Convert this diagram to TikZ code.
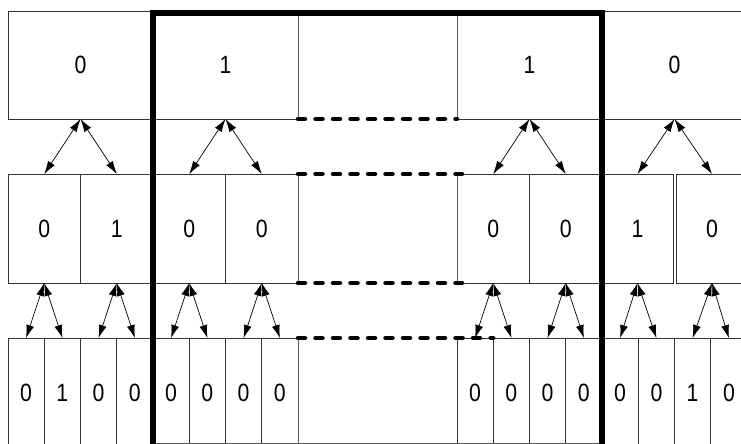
\documentclass[tikz,border=0pt]{standalone}
\usepackage{fontspec}
\setmainfont{Liberation Sans}[FakeStretch=0.85]
\usepackage{tikz}
\usetikzlibrary{arrows.meta}

\begin{document}
\begin{tikzpicture}[
  x=1pt, y=-1pt,
  cell/.style={draw=black!80, line width=0.8pt, inner sep=0pt, outer sep=0pt,
    font=\fontsize{25}{25}\selectfont},
  tcell/.style={cell, minimum width=145pt, minimum height=108pt},
  mcell/.style={cell, minimum width=72.5pt, minimum height=109pt},
  bcell/.style={cell, minimum width=36.25pt, minimum height=110pt},
  gapbox/.style={inner sep=0pt, outer sep=0pt, minimum width=159pt},
  side/.style={draw=black!65, line width=0.8pt},
  arr/.style={{Latex[length=13pt,width=8pt]}-{Latex[length=13pt,width=8pt]}, line width=0.7pt},
  gapline/.style={line width=4.5pt, line cap=round, dash pattern=on 7pt off 10.5pt},
  frame/.style={line width=6pt}
]
\useasboundingbox (0,0) rectangle (741,444);

% top row
\node[tcell] (t1) at (80.5, 65) {0};
\node[tcell] (t2) at (225.5, 65) {1};
\node[gapbox, minimum height=108pt] (tgap) at (377.5, 65) {};
\node[tcell] (t3) at (529.5, 65) {1};
\node[tcell] (t4) at (674.5, 65) {0};

% middle row
\node[mcell] (m1) at (44.25, 228.5) {0};
\node[mcell] (m2) at (116.75, 228.5) {1};
\node[mcell] (m3) at (189.25, 228.5) {0};
\node[mcell] (m4) at (261.75, 228.5) {0};
\node[gapbox, minimum height=109pt] (mgap) at (377.5, 228.5) {};
\node[mcell] (m5) at (493.25, 228.5) {0};
\node[mcell] (m6) at (565.75, 228.5) {0};
\node[mcell, minimum width=71pt] (m7) at (637.5, 228.5) {1};
\node[mcell, minimum width=72pt] (m8) at (712, 228.5) {0};

% bottom row
\node[bcell] (b1) at (26.1, 393) {0};
\node[bcell] (b2) at (62.4, 393) {1};
\node[bcell] (b3) at (98.6, 393) {0};
\node[bcell] (b4) at (134.9, 393) {0};
\node[bcell] (b5) at (171.1, 393) {0};
\node[bcell] (b6) at (207.4, 393) {0};
\node[bcell] (b7) at (243.6, 393) {0};
\node[bcell] (b8) at (279.9, 393) {0};
\node[gapbox, minimum height=110pt] (bgap) at (377.5, 393) {};
\node[bcell] (b9) at (475.1, 393) {0};
\node[bcell] (b10) at (511.4, 393) {0};
\node[bcell] (b11) at (547.6, 393) {0};
\node[bcell] (b12) at (583.9, 393) {0};
\node[bcell] (b13) at (620.1, 393) {0};
\node[bcell] (b14) at (656.4, 393) {0};
\node[bcell] (b15) at (692.6, 393) {1};
\node[bcell] (b16) at (728.9, 393) {0};

% gap sides
\draw[side] (tgap.north west) -- (tgap.south west);
\draw[side] (tgap.north east) -- (tgap.south east);
\draw[side] (mgap.north west) -- (mgap.south west);
\draw[side] (mgap.north east) -- (mgap.south east);
\draw[side] (bgap.north west) -- (bgap.south west);
\draw[side] ([yshift=5pt]b5.south west) -- ([yshift=5pt]b12.south east);

% dashed gaps
\draw[gapline] (tgap.south west) -- (tgap.south east);
\draw[gapline] (mgap.north west) -- ([xshift=5pt]mgap.north east);
\draw[gapline] (mgap.south west) -- ([xshift=5pt]mgap.south east);
\draw[gapline] (bgap.north west) -- (b9.north east);

% arrows top -> middle
\draw[arr] (t1.south) -- (m1.north);
\draw[arr] (t1.south) -- (m2.north);
\draw[arr] (t2.south) -- (m3.north);
\draw[arr] (t2.south) -- (m4.north);
\draw[arr] (t3.south) -- (m5.north);
\draw[arr] (t3.south) -- (m6.north);
\draw[arr] (t4.south) -- (m7.north);
\draw[arr] (t4.south) -- (m8.north);

% arrows middle -> bottom
\draw[arr] (m1.south) -- (b1.north);
\draw[arr] (m1.south) -- (b2.north);
\draw[arr] (m2.south) -- (b3.north);
\draw[arr] (m2.south) -- (b4.north);
\draw[arr] (m3.south) -- (b5.north);
\draw[arr] (m3.south) -- (b6.north);
\draw[arr] (m4.south) -- (b7.north);
\draw[arr] (m4.south) -- (b8.north);
\draw[arr] (m5.south) -- (b9.north);
\draw[arr] (m5.south) -- (b10.north);
\draw[arr] (m6.south) -- (b11.north);
\draw[arr] (m6.south) -- (b12.north);
\draw[arr] (m7.south) -- (b13.north);
\draw[arr] (m7.south) -- (b14.north);
\draw[arr] (m8.south) -- (b15.north);
\draw[arr] (m8.south) -- (b16.north);

% thick frame
\coordinate (fbl) at (153, 470);
\coordinate (ftl) at (153, 13);
\coordinate (ftr) at (602, 13);
\coordinate (fbr) at (602, 470);
\draw[frame] (fbl) -- (ftl) -- (ftr) -- (fbr);

\end{tikzpicture}
\end{document}
